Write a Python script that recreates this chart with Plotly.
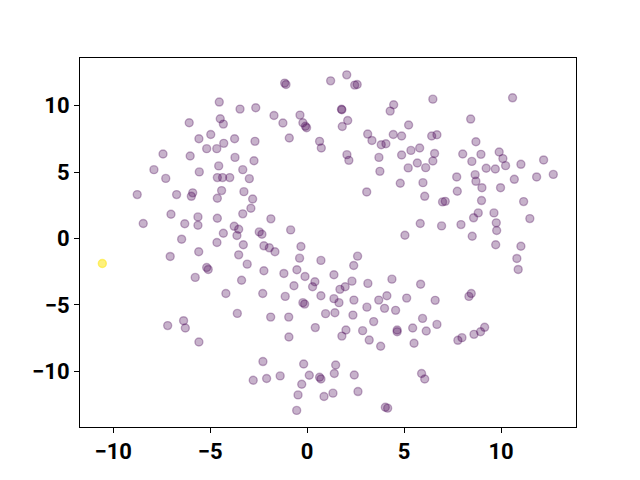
import plotly.graph_objects as go

# Purple group (low value of the colour variable)
purple_x = [-6.08, -5.58, -7.43, -6.03, -7.90, -7.29, -5.56, -8.76, -6.73, -5.90, -5.97, -7.02, -8.45, -6.31, -5.63, -5.63,
            -6.47, -5.59, -7.06, -5.77, -7.19, -6.37, -6.28, -5.58, -1.16, -1.09, -4.53, -3.46, -2.65, -1.71, -1.25, -0.37,
            -0.22, -0.03, -0.09, -4.48, -4.32, -4.97, -4.30, -3.74, -2.69, -0.92, 0.64, 0.73, -5.18, -4.66, -3.72, -2.74,
            -4.56, -3.32, -2.98, -4.63, -4.36, -3.99, -4.41, -3.26, -4.63, -2.81, -2.90, -3.32, -4.63, -1.87, -3.76, -3.53,
            -3.62, -4.32, -2.47, -2.33, -0.85, -4.65, -3.29, -2.23, -1.95, -1.66, -0.32, -3.53, -0.39, 0.71, -5.18, -5.10,
            -3.09, -2.23, -1.20, -0.53, -0.11, -3.38, 0.40, 0.28, -0.68, -4.19, -2.29, -1.13, 0.71, -0.22, -0.13, -3.60,
            -1.88, -0.95, 0.95, 0.42, -0.94, -2.28, -0.18, -2.78, -2.09, -1.39, 0.11, 0.64, 0.71, -0.28, -0.47, 0.87,
            -0.54, 1.21, 2.04, 2.45, 2.58, 1.79, 1.77, 2.09, 1.81, 4.46, 4.28, 6.48, 5.23, 3.12, 3.34, 3.82,
            4.06, 4.44, 4.87, 6.42, 6.69, 2.05, 2.15, 3.70, 4.87, 5.35, 5.80, 6.57, 6.48, 5.68, 6.11, 5.21,
            3.75, 3.07, 4.80, 5.97, 6.06, 6.98, 7.12, 5.83, 6.93, 5.04, 2.60, 2.40, 1.38, 4.37, 2.31, 1.96,
            1.69, 3.13, 5.85, 1.38, 1.64, 2.41, 3.69, 4.11, 5.13, 6.60, 3.08, 3.99, 4.56, 1.43, 2.36, 3.43,
            5.95, 6.69, 2.00, 1.79, 2.86, 4.64, 4.64, 5.44, 6.14, 3.20, 3.79, 5.51, 1.47, 1.40, 2.43, 5.90,
            6.06, 1.33, 2.62, 4.03, 4.15, 10.59, 8.43, 8.70, 8.02, 8.96, 8.49, 9.90, 10.09, 10.23, 11.02, 12.19,
            9.23, 9.70, 7.71, 8.66, 8.70, 10.68, 11.83, 12.69, 7.74, 9.01, 9.97, 8.99, 11.16, 8.82, 8.58, 9.63,
            7.93, 9.75, 9.77, 11.48, 8.51, 9.72, 11.02, 10.81, 10.88, 8.46, 8.34, 7.77, 7.98, 8.60, 8.94, 9.15]
purple_y = [8.72, 7.52, 6.37, 6.22, 5.19, 4.53, 5.02, 3.31, 3.31, 3.44, 3.18, 1.83, 1.13, 1.11, 1.63, 1.00,
            -0.05, -1.00, -1.35, -2.93, -6.56, -6.19, -6.74, -7.80, 11.71, 11.60, 10.28, 9.75, 9.85, 9.27, 8.70, 9.30,
            8.72, 8.35, 8.46, 9.02, 8.62, 7.84, 7.17, 7.52, 7.32, 7.57, 7.32, 6.82, 6.77, 6.77, 6.11, 5.86,
            5.47, 5.19, 4.51, 4.59, 4.59, 4.59, 3.61, 3.53, 3.03, 2.98, 2.28, 1.86, 1.53, 1.48, 0.92, 0.70,
            0.23, 0.40, 0.50, 0.32, 0.65, -0.30, -0.47, -0.55, -0.70, -1.00, -0.60, -1.23, -1.48, -1.65, -2.18, -2.33,
            -1.93, -2.43, -2.63, -2.35, -2.86, -3.14, -3.26, -3.63, -3.56, -4.14, -4.14, -4.36, -4.31, -4.83, -4.94, -5.64,
            -5.92, -5.92, -5.66, -6.71, -7.42, -9.27, -9.45, -10.68, -10.55, -10.35, -10.30, -10.45, -10.58, -10.98, -11.78, -11.90,
            -12.95, 11.88, 12.33, 11.56, 11.60, 9.70, 9.74, 8.89, 8.44, 10.08, 9.60, 10.50, 8.55, 7.87, 7.39, 7.07,
            7.14, 7.84, 7.72, 7.72, 7.82, 6.32, 5.89, 6.11, 6.29, 6.64, 6.82, 6.41, 5.84, 5.69, 5.34, 5.32,
            5.06, 3.51, 4.16, 4.21, 3.18, 2.76, 2.80, 1.13, 0.95, 0.25, -1.33, -2.03, -2.73, -3.06, -3.21, -3.63,
            -3.83, -3.38, -3.44, -4.53, -4.83, -4.64, -4.64, -4.31, -4.49, -4.66, -5.17, -5.26, -5.41, -5.59, -5.77, -6.26,
            -6.02, -6.47, -6.89, -7.35, -6.94, -6.89, -7.02, -6.74, -6.97, -7.65, -8.12, -7.89, -9.53, -10.17, -10.28, -10.17,
            -10.58, -11.65, -11.53, -12.71, -12.78, 10.60, 9.00, 7.29, 6.37, 6.34, 5.81, 6.52, 6.02, 5.49, 5.59, 5.92,
            5.29, 5.24, 4.64, 4.81, 4.31, 4.46, 4.64, 4.83, 3.56, 3.83, 3.83, 2.86, 2.78, 1.93, 1.56, 1.93,
            1.05, 1.18, 0.60, 1.50, 0.17, -0.47, -0.58, -1.50, -2.33, -4.14, -4.36, -7.67, -7.47, -7.22, -7.02, -6.69]

# Yellow group (high value of the colour variable)
yellow_x = [-10.56]
yellow_y = [-1.88]

x_ticks = [-10, -5, 0, 5, 10]
y_ticks = [-10, -5, 0, 5, 10]

PURPLE = "rgba(68,1,84,0.3)"
YELLOW = "rgba(253,231,37,0.6)"

fig = go.Figure()
fig.add_trace(go.Scatter(x=purple_x, y=purple_y, mode="markers",
                         marker=dict(size=8, color=PURPLE, line=dict(color=PURPLE, width=1.4)),
                         showlegend=False, hoverinfo="x+y"))
fig.add_trace(go.Scatter(x=yellow_x, y=yellow_y, mode="markers",
                         marker=dict(size=8, color=YELLOW, line=dict(color=YELLOW, width=1.4)),
                         showlegend=False, hoverinfo="x+y"))

axis_common = dict(showgrid=False, zeroline=False, showline=True, mirror=True,
                   linecolor="black", linewidth=1.1, ticks="outside", ticklen=5,
                   tickwidth=1.1, tickcolor="black",
                   tickfont=dict(family="Roboto", size=22, color="black", weight="bold"))

fig.update_xaxes(range=[-11.71, 13.86], tickvals=x_ticks, **axis_common)
fig.update_yaxes(range=[-14.2, 13.6], tickvals=y_ticks, **axis_common)

fig.update_layout(width=632, height=472, plot_bgcolor="white", paper_bgcolor="white",
                  margin=dict(l=72, r=64, t=50, b=53, autoexpand=False))

fig.write_html("out.html")
